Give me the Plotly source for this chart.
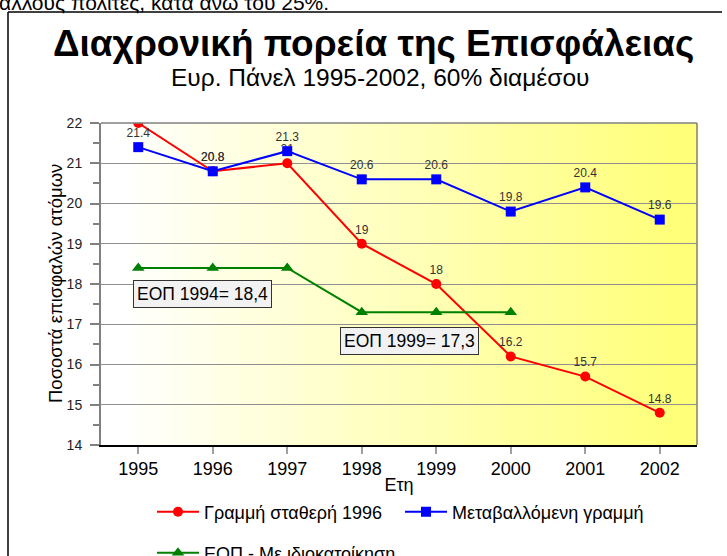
import plotly.graph_objects as go

years = ["1995", "1996", "1997", "1998", "1999", "2000", "2001", "2002"]
fixed_1996 = [22, 20.8, 21, 19, 18, 16.2, 15.7, 14.8]
variable_line = [21.4, 20.8, 21.3, 20.6, 20.6, 19.8, 20.4, 19.6]
eop_years = ["1995", "1996", "1997", "1998", "1999", "2000"]
eop_owner = [18.4, 18.4, 18.4, 17.3, 17.3, 17.3]

FONT = "Arial, Liberation Sans, sans-serif"
W, H = 727, 556
L, R, T, B = 101, 697, 123, 445  # plot area in px


def px(x):
    return (x - L) / (R - L)


def py(y):
    return (B - y) / (B - T)


fig = go.Figure()
fig.add_trace(go.Scatter(
    x=years, y=fixed_1996, name="Γραμμή σταθερή 1996", mode="lines+markers+text",
    line=dict(color="#FF0000", width=2), marker=dict(symbol="circle", size=10, color="#FF0000"),
    texttemplate="%{y}", textposition="top center", textfont=dict(size=12, color="#333333", family=FONT),
    legend="legend"))
fig.add_trace(go.Scatter(
    x=years, y=variable_line, name="Μεταβαλλόμενη γραμμή", mode="lines+markers+text",
    line=dict(color="#0000FF", width=2), marker=dict(symbol="square", size=10, color="#0000FF"),
    texttemplate="%{y}", textposition="top center", textfont=dict(size=12, color="#333333", family=FONT),
    legend="legend"))
fig.add_trace(go.Scatter(
    x=eop_years, y=eop_owner, name="ΕΟΠ - Με ιδιοκατοίκηση", mode="lines+markers",
    line=dict(color="#008000", width=2), marker=dict(symbol="triangle-up", size=11, color="#008000"),
    legend="legend2"))

# gradient background (white -> yellow)
shapes = []
n = 60
for i in range(n):
    x0 = L + (R - L) * i / n
    x1 = L + (R - L) * (i + 1) / n
    xm = (x0 + x1) / 2
    t = max(0.0, min(1.0, (xm - 118) / (680 - 118)))
    b = int(round(255 - 135 * t))
    shapes.append(dict(type="rect", xref="paper", yref="paper", x0=px(x0), x1=px(x1) + 0.002,
                       y0=0, y1=1, fillcolor=f"rgb(255,255,{b})", line=dict(width=0), layer="below"))
# plot area border (top / right)
shapes.append(dict(type="line", xref="paper", yref="paper", x0=0, x1=1, y0=1, y1=1,
                   line=dict(color="#808080", width=1.5)))
shapes.append(dict(type="line", xref="paper", yref="paper", x0=1, x1=1, y0=0, y1=1,
                   line=dict(color="#808080", width=1.5)))
# outer frame
shapes.append(dict(type="line", xref="paper", yref="paper", x0=px(8), x1=px(722), y0=py(12), y1=py(12),
                   line=dict(color="black", width=1.5)))
shapes.append(dict(type="line", xref="paper", yref="paper", x0=px(8), x1=px(8), y0=py(12), y1=py(600),
                   line=dict(color="black", width=1.5)))

annotations = [
    dict(text="άλλους πολίτες, κατά άνω του 25%.", xref="paper", yref="paper", x=px(-3), y=py(16),
         xanchor="left", yanchor="bottom", showarrow=False, font=dict(size=21, family=FONT, color="black")),
    dict(text="<b>Διαχρονική πορεία της Επισφάλειας</b>", xref="paper", yref="paper", x=px(373), y=py(44),
         xanchor="center", yanchor="middle", showarrow=False, font=dict(size=37, family=FONT, color="black")),
    dict(text="Ευρ. Πάνελ 1995-2002, 60% διαμέσου", xref="paper", yref="paper", x=px(380), y=py(77),
         xanchor="center", yanchor="middle", showarrow=False, font=dict(size=24.5, family=FONT, color="black")),
    dict(text="Ποσοστά επισφαλών ατόμων", xref="paper", yref="paper", x=px(55), y=py(284),
         xanchor="center", yanchor="middle", textangle=-90, showarrow=False,
         font=dict(size=18.5, family=FONT, color="black")),
    dict(text="ΕΟΠ 1994= 18,4", xref="paper", yref="paper", x=px(133), y=py(294),
         xanchor="left", yanchor="middle", showarrow=False, font=dict(size=17.5, family=FONT, color="black"),
         bgcolor="#F2F2F2", bordercolor="#333333", borderwidth=1, borderpad=3),
    dict(text="ΕΟΠ 1999= 17,3", xref="paper", yref="paper", x=px(340), y=py(341),
         xanchor="left", yanchor="middle", showarrow=False, font=dict(size=17.5, family=FONT, color="black"),
         bgcolor="#F2F2F2", bordercolor="#333333", borderwidth=1, borderpad=3),
]

fig.update_layout(
    width=W, height=H,
    margin=dict(l=L, r=W - R, t=T, b=H - B, autoexpand=False),
    paper_bgcolor="white", plot_bgcolor="white",
    font=dict(family=FONT, color="black"),
    shapes=shapes, annotations=annotations,
    showlegend=True,
    legend=dict(orientation="h", x=px(152), y=py(512), xanchor="left", yanchor="middle",
                entrywidth=191, entrywidthmode="pixels", itemwidth=42, font=dict(size=18, family=FONT),
                bgcolor="rgba(0,0,0,0)", traceorder="normal"),
    legend2=dict(orientation="h", x=px(152), y=py(553), xanchor="left", yanchor="middle",
                 itemwidth=42, font=dict(size=18, family=FONT), bgcolor="rgba(0,0,0,0)"),
)
fig.update_xaxes(
    type="category", range=[-0.5, 7.5], showgrid=False, zeroline=False,
    showline=True, linecolor="black", linewidth=1.5,
    ticks="outside", ticklen=7, tickcolor="#A0A0A0", tickwidth=1.5,
    tickfont=dict(size=18, family=FONT, color="black"),
    title=dict(text="Ετη", font=dict(size=18, family=FONT), standoff=0),
)
fig.update_yaxes(
    range=[14, 22], dtick=1, showgrid=True, gridcolor="#909090", gridwidth=1, zeroline=False,
    showline=True, linecolor="#808080", linewidth=2,
    ticks="outside", ticklen=9, tickcolor="#808080", tickwidth=1.5,
    minor=dict(dtick=0.5, ticks="outside", ticklen=6, tickcolor="#808080", showgrid=False),
    ticklabelstandoff=5,
    tickfont=dict(size=14, family=FONT, color="#222222"),
)

fig.write_html("out.html", config={"displayModeBar": False},
               post_script="document.body.style.margin='0px';")
